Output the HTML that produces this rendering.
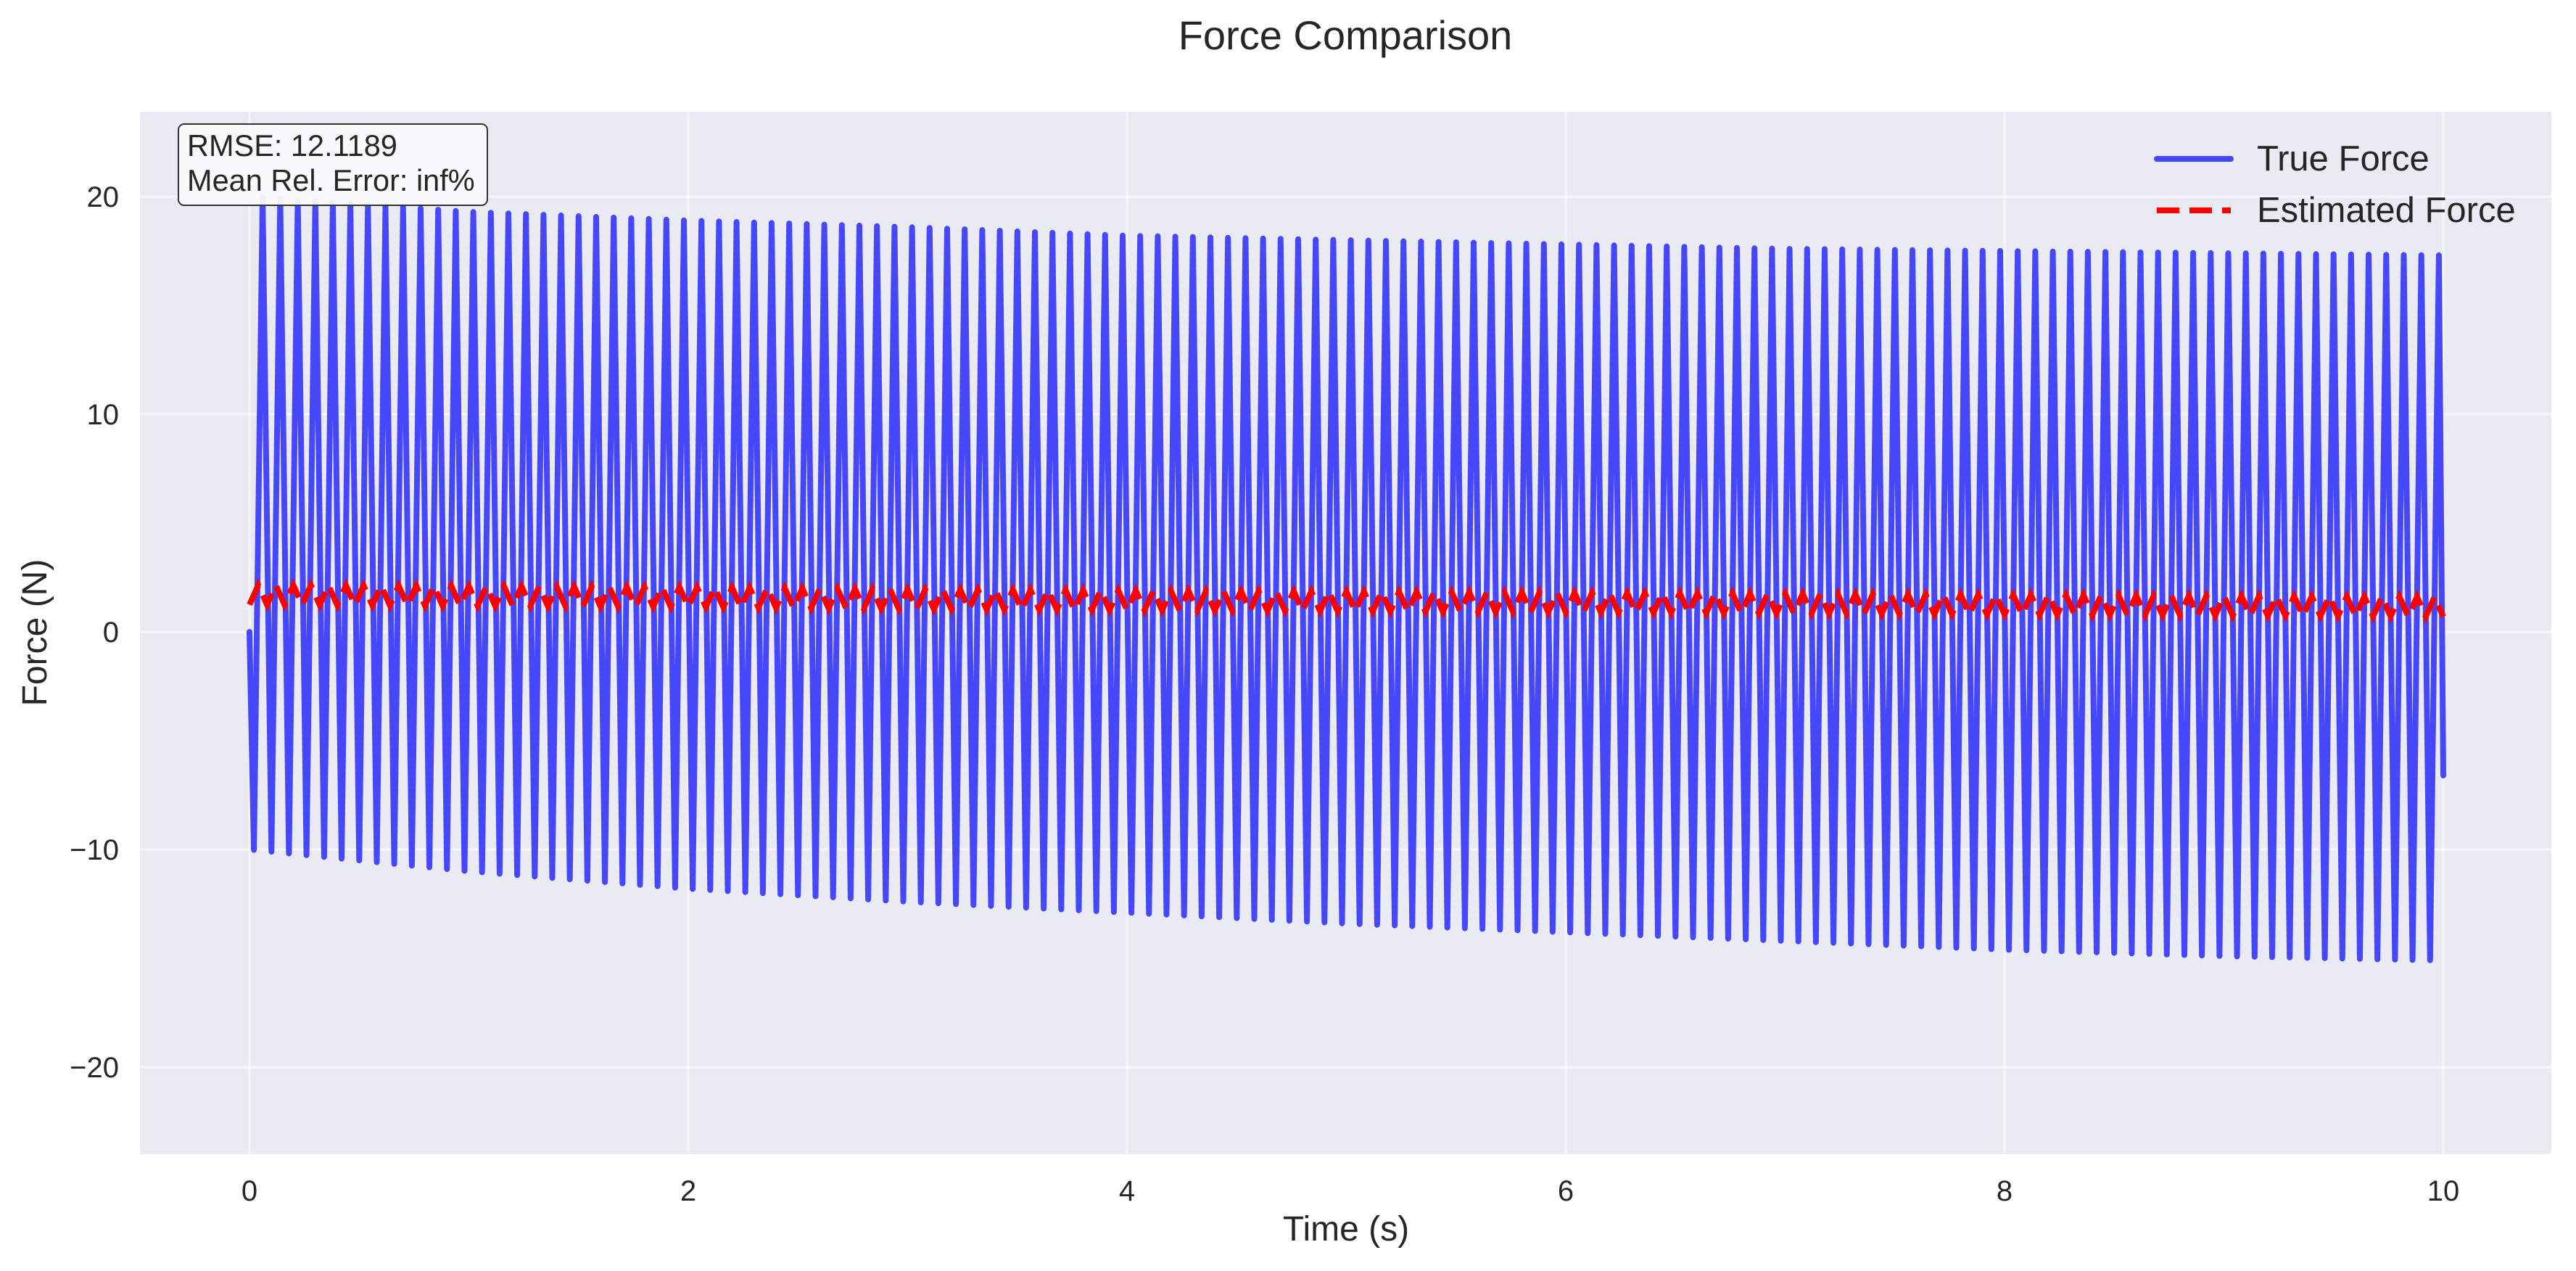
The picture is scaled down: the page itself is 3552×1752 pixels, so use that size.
<!DOCTYPE html>
<html><head><meta charset="utf-8"><style>
html,body{margin:0;padding:0;background:#fff;}
svg{display:block;font-family:"Liberation Sans",Arial,sans-serif;}
</style></head><body>
<svg id="chart" width="3552" height="1752" viewBox="0 0 3552 1752" xmlns="http://www.w3.org/2000/svg">
<rect x="0" y="0" width="3552" height="1752" fill="#ffffff"/>
<text x="1855" y="68" font-size="56" fill="#262626" text-anchor="middle">Force Comparison</text>
<rect x="193" y="154" width="3325" height="1437" fill="#eaeaf2"/>
<g id="grid"></g>
<g id="xticks"></g>
<g id="yticks"></g>
<defs><clipPath id="clip"><rect x="193" y="154" width="3325" height="1437"/></clipPath></defs>
<g clip-path="url(#clip)" id="series"></g>
<text x="1856" y="1710" font-size="48" fill="#262626" text-anchor="middle">Time (s)</text>
<text x="0" y="0" font-size="48" fill="#262626" text-anchor="middle" transform="translate(64,872) rotate(-90)">Force (N)</text>
<g>
<rect x="246" y="171" width="426" height="112" rx="8" ry="8" fill="#fafafc" fill-opacity="0.95" stroke="#333" stroke-width="2"/>
<text x="258" y="215" font-size="41.5" fill="#262626">RMSE: 12.1189</text>
<text x="258" y="263" font-size="41.5" fill="#262626">Mean Rel. Error: inf%</text>
</g>
<g>
<g>
<line x1="2974" y1="219" x2="3076" y2="219" stroke="rgb(70,70,250)" stroke-width="8" stroke-linecap="round"/>
<text x="3112" y="235" font-size="49" fill="#262626">True Force</text>
</g>
<g>
<line x1="2974" y1="290" x2="3076" y2="290" stroke="#ff0000" stroke-width="8" stroke-dasharray="31,14"/>
<text x="3112" y="306" font-size="49" fill="#262626">Estimated Force</text>
</g>
</g>
</svg>
<script>
// data
const envTimes = [0,1,2,3,4,5,6,7,8,9,10];
const truePeaks = [20.0,19.3,18.9,18.6,18.2,18.0,17.8,17.6,17.5,17.4,17.3];
const trueTroughs = [-10.0,-11.0,-11.8,-12.4,-12.9,-13.4,-13.8,-14.2,-14.6,-14.9,-15.1];
const estMean = [1.7,1.65,1.6,1.5,1.45,1.4,1.35,1.3,1.25,1.2,1.15];
const estAmp = [0.45,0.45,0.45,0.45,0.45,0.45,0.45,0.45,0.45,0.45,0.45];
const periodSec = [0.08];
const trueEndValue = [-6.6];
const xTicks = [0,2,4,6,8,10];
const yTicks = [-20,-10,0,10,20];
const xTickLabels = ["0","2","4","6","8","10"];
const yTickLabels = ["\u221220","\u221210","0","10","20"];

const X0=344, XS=302.5, Y0=871, YS=30;
function xs(t){return X0+t*XS;}
function ys(v){return Y0-v*YS;}
function env(arr,t){
  let i=Math.min(Math.floor(t),envTimes.length-2);
  const f=(t-envTimes[i])/(envTimes[i+1]-envTimes[i]);
  return arr[i]+(arr[i+1]-arr[i])*f;
}
const NS="http://www.w3.org/2000/svg";
const grid=document.getElementById('grid');
xTicks.forEach((t,i)=>{
  const l=document.createElementNS(NS,'line');
  l.setAttribute('x1',xs(t));l.setAttribute('x2',xs(t));l.setAttribute('y1',154);l.setAttribute('y2',1591);
  l.setAttribute('stroke','#ffffff');l.setAttribute('stroke-width',3);l.setAttribute('stroke-opacity',0.5);
  
  
  grid.appendChild(l);
  const tx=document.createElementNS(NS,'text');
  tx.setAttribute('x',xs(t));tx.setAttribute('y',1655);tx.setAttribute('font-size',40);
  tx.setAttribute('fill','#262626');tx.setAttribute('text-anchor','middle');
  tx.textContent=xTickLabels[i];
  
  
  document.getElementById('xticks').appendChild(tx);
});
yTicks.forEach((v,i)=>{
  const l=document.createElementNS(NS,'line');
  l.setAttribute('x1',193);l.setAttribute('x2',3518);l.setAttribute('y1',ys(v));l.setAttribute('y2',ys(v));
  l.setAttribute('stroke','#ffffff');l.setAttribute('stroke-width',3);l.setAttribute('stroke-opacity',0.5);
  
  
  grid.appendChild(l);
  const tx=document.createElementNS(NS,'text');
  tx.setAttribute('x',164);tx.setAttribute('y',ys(v)+14);tx.setAttribute('font-size',40);
  tx.setAttribute('fill','#262626');tx.setAttribute('text-anchor','end');
  tx.textContent=yTickLabels[i];
  
  
  document.getElementById('yticks').appendChild(tx);
});
const P=periodSec[0];
let tpts=[[xs(0),ys(0)]];
let t=P/4, isTrough=true;
while(t<=10+1e-9){
  const v=isTrough?env(trueTroughs,t):env(truePeaks,t);
  tpts.push([xs(t),ys(v)]);
  t+=P/2; isTrough=!isTrough;
}
tpts.push([xs(10),ys(trueEndValue[0])]);
const series=document.getElementById('series');
const tl=document.createElementNS(NS,'polyline');
tl.setAttribute('points',tpts.map(p=>p[0].toFixed(1)+','+p[1].toFixed(1)).join(' '));
tl.setAttribute('fill','none');tl.setAttribute('stroke','rgb(70,70,250)');tl.setAttribute('stroke-width',8);
tl.setAttribute('stroke-linejoin','round');tl.setAttribute('stroke-linecap','round');


series.appendChild(tl);
let epts=[];
t=0; let up=false;
while(t<=10+1e-9){
  const v=env(estMean,t)+(up?1:-1)*env(estAmp,t);
  epts.push([xs(t),ys(v)]);
  t+=P/2; up=!up;
}
const el=document.createElementNS(NS,'polyline');
el.setAttribute('points',epts.map(p=>p[0].toFixed(1)+','+p[1].toFixed(1)).join(' '));
el.setAttribute('fill','none');el.setAttribute('stroke','#ff0000');el.setAttribute('stroke-width',8);
el.setAttribute('stroke-dasharray','31,14');


series.appendChild(el);
</script>
</body></html>
